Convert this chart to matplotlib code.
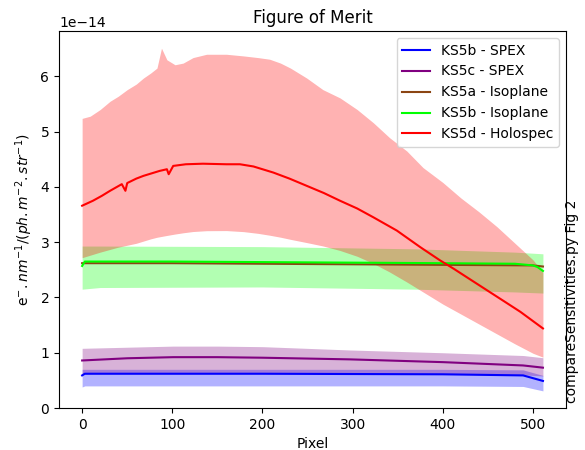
import matplotlib
matplotlib.use("Agg")
import matplotlib.pyplot as plt
import numpy as np

SCALE = 1e-14

# values, in units of 1e-14
red_px = [0, 12, 22, 31, 44, 48, 50, 60, 68, 78, 86, 94, 96, 101, 115, 134, 160, 175, 190, 212, 230, 249, 268, 286, 305, 323, 336, 349, 362, 375, 397, 412, 430, 449, 468, 486, 511]
red_val = [3.66, 3.75, 3.84, 3.93, 4.05, 3.93, 4.07, 4.15, 4.20, 4.25, 4.29, 4.32, 4.23, 4.38, 4.41, 4.42, 4.41, 4.41, 4.37, 4.26, 4.15, 4.02, 3.89, 3.75, 3.61, 3.45, 3.33, 3.21, 3.06, 2.91, 2.67, 2.52, 2.33, 2.13, 1.93, 1.74, 1.44]

red_up_px = [0, 9, 20, 31, 40, 50, 60, 68, 76, 83, 88, 94, 103, 112, 123, 138, 160, 179, 195, 208, 220, 231, 249, 267, 286, 305, 323, 341, 360, 378, 400, 420, 440, 460, 480, 500, 511]
red_up = [5.24, 5.28, 5.40, 5.55, 5.64, 5.76, 5.86, 5.97, 6.06, 6.15, 6.51, 6.30, 6.21, 6.24, 6.34, 6.40, 6.40, 6.37, 6.34, 6.31, 6.24, 6.15, 5.97, 5.76, 5.61, 5.40, 5.16, 4.89, 4.65, 4.35, 4.08, 3.80, 3.55, 3.28, 2.98, 2.68, 2.45]

red_lo_px = [0, 20, 40, 60, 80, 100, 120, 140, 160, 180, 200, 220, 240, 260, 280, 300, 320, 340, 360, 380, 400, 420, 440, 460, 480, 500, 511]
red_lo = [2.72, 2.82, 2.91, 2.98, 3.08, 3.14, 3.19, 3.21, 3.21, 3.19, 3.15, 3.09, 3.02, 2.96, 2.88, 2.78, 2.64, 2.47, 2.28, 2.08, 1.88, 1.70, 1.52, 1.34, 1.16, 0.99, 0.92]

green_px = [0, 3, 100, 200, 300, 400, 480, 500, 505, 511]
green_val = [2.57, 2.65, 2.65, 2.64, 2.63, 2.62, 2.61, 2.58, 2.55, 2.48]
green_band_px = [0, 20, 200, 370, 480, 511]
green_up = [2.93, 2.93, 2.92, 2.88, 2.82, 2.79]
green_lo = [2.15, 2.18, 2.19, 2.15, 2.10, 2.08]

brown_px = [0, 100, 300, 500, 511]
brown_val = [2.62, 2.62, 2.60, 2.58, 2.56]

purple_px = [0, 50, 101, 150, 200, 297, 400, 489, 511]
purple_val = [0.86, 0.90, 0.92, 0.92, 0.91, 0.88, 0.83, 0.77, 0.73]
purple_up = [1.08, 1.10, 1.12, 1.12, 1.11, 1.05, 1.00, 0.95, 0.91]
purple_lo = [0.62, 0.63, 0.63, 0.63, 0.63, 0.62, 0.61, 0.60, 0.58]

blue_px = [0, 3, 200, 400, 489, 511]
blue_val = [0.59, 0.62, 0.62, 0.61, 0.59, 0.49]
blue_up = [0.70, 0.70, 0.70, 0.70, 0.69, 0.59]
blue_lo = [0.38, 0.40, 0.40, 0.40, 0.39, 0.31]


def s(v):
    return np.array(v) * SCALE


fig = plt.figure(figsize=(5.85, 4.5), dpi=100)
ax = fig.add_axes([0.101, 0.0933, 0.8665, 0.8377])

ax.plot(blue_px, s(blue_val), color="blue", label="KS5b - SPEX")
ax.fill_between(blue_px, s(blue_lo), s(blue_up), color="blue", alpha=0.3, lw=0)
ax.plot(purple_px, s(purple_val), color="purple", label="KS5c - SPEX")
ax.fill_between(purple_px, s(purple_lo), s(purple_up), color="purple", alpha=0.3, lw=0)
ax.plot(brown_px, s(brown_val), color="saddlebrown", label="KS5a - Isoplane")
ax.plot(green_px, s(green_val), color="lime", label="KS5b - Isoplane")
ax.fill_between(green_band_px, s(green_lo), s(green_up), color="lime", alpha=0.3, lw=0)
ax.plot(red_px, s(red_val), color="red", label="KS5d - Holospec")
ax.fill_between(red_up_px, s(np.interp(red_up_px, red_lo_px, red_lo)), s(red_up),
                color="red", alpha=0.3, lw=0)

ax.set_ylim(bottom=0)
ax.set_title("Figure of Merit")
ax.set_xlabel("Pixel")
ax.set_ylabel(r"e$^{-}.nm^{-1}/(ph.m^{-2}.str^{-1})$")
ax.legend(loc="upper right")

fig.text(0.978, 0.104, "compareSensitivities.py Fig 2", rotation=90,
         ha="center", va="bottom", fontsize=10)

fig.savefig("out.png", dpi=100)
